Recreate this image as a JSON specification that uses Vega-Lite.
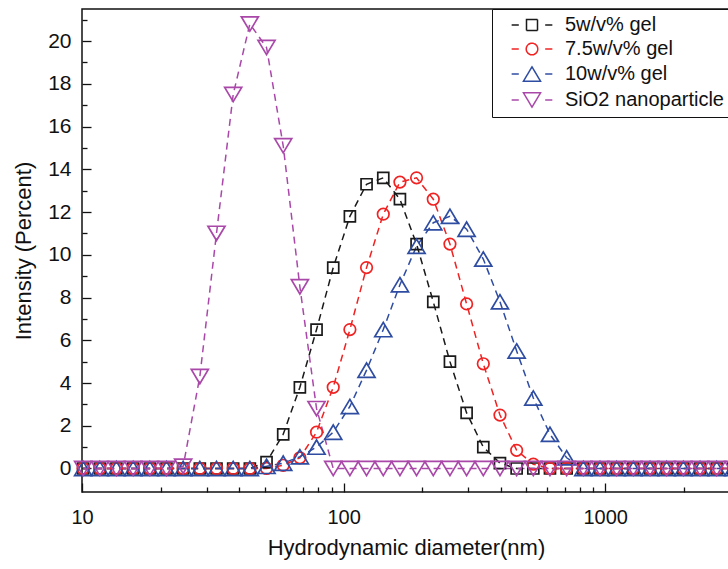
{
  "$schema": "https://vega.github.io/schema/vega-lite/v6.json",
  "width": 648,
  "height": 483,
  "autosize": {"type": "none"},
  "padding": {"left": 82, "top": 9, "right": 0, "bottom": 77},
  "background": "white",
  "config": {
    "font": "Liberation Sans",
    "view": {"stroke": "#111", "strokeWidth": 1.5}
  },
  "data": {
    "values": [
      {"s":"5w/v% gel","d":10.1,"v":0},{"s":"5w/v% gel","d":11.7,"v":0},{"s":"5w/v% gel","d":13.54,"v":0},{"s":"5w/v% gel","d":15.69,"v":0},{"s":"5w/v% gel","d":18.17,"v":0},{"s":"5w/v% gel","d":21.04,"v":0},{"s":"5w/v% gel","d":24.36,"v":0},{"s":"5w/v% gel","d":28.21,"v":0},{"s":"5w/v% gel","d":32.67,"v":0},{"s":"5w/v% gel","d":37.84,"v":0},{"s":"5w/v% gel","d":43.82,"v":0},{"s":"5w/v% gel","d":50.75,"v":0.3},{"s":"5w/v% gel","d":58.77,"v":1.6},{"s":"5w/v% gel","d":68.06,"v":3.8},{"s":"5w/v% gel","d":78.82,"v":6.5},{"s":"5w/v% gel","d":91.28,"v":9.4},{"s":"5w/v% gel","d":105.7,"v":11.8},{"s":"5w/v% gel","d":122.4,"v":13.3},{"s":"5w/v% gel","d":141.8,"v":13.6},{"s":"5w/v% gel","d":164.2,"v":12.6},{"s":"5w/v% gel","d":190.1,"v":10.5},{"s":"5w/v% gel","d":220.2,"v":7.8},{"s":"5w/v% gel","d":255.0,"v":5.0},{"s":"5w/v% gel","d":295.3,"v":2.6},{"s":"5w/v% gel","d":342.0,"v":1.0},{"s":"5w/v% gel","d":396.1,"v":0.25},{"s":"5w/v% gel","d":458.7,"v":0},{"s":"5w/v% gel","d":531.2,"v":0},{"s":"5w/v% gel","d":615.1,"v":0},{"s":"5w/v% gel","d":712.4,"v":0},{"s":"5w/v% gel","d":825.0,"v":0},{"s":"5w/v% gel","d":955.4,"v":0},{"s":"5w/v% gel","d":1106,"v":0},{"s":"5w/v% gel","d":1281,"v":0},{"s":"5w/v% gel","d":1484,"v":0},{"s":"5w/v% gel","d":1718,"v":0},{"s":"5w/v% gel","d":1990,"v":0},{"s":"5w/v% gel","d":2305,"v":0},{"s":"5w/v% gel","d":2669,"v":0},{"s":"5w/v% gel","d":3091,"v":0},
      {"s":"7.5w/v% gel","d":10.1,"v":0},{"s":"7.5w/v% gel","d":11.7,"v":0},{"s":"7.5w/v% gel","d":13.54,"v":0},{"s":"7.5w/v% gel","d":15.69,"v":0},{"s":"7.5w/v% gel","d":18.17,"v":0},{"s":"7.5w/v% gel","d":21.04,"v":0},{"s":"7.5w/v% gel","d":24.36,"v":0},{"s":"7.5w/v% gel","d":28.21,"v":0},{"s":"7.5w/v% gel","d":32.67,"v":0},{"s":"7.5w/v% gel","d":37.84,"v":0},{"s":"7.5w/v% gel","d":43.82,"v":0},{"s":"7.5w/v% gel","d":50.75,"v":0},{"s":"7.5w/v% gel","d":58.77,"v":0.15},{"s":"7.5w/v% gel","d":68.06,"v":0.5},{"s":"7.5w/v% gel","d":78.82,"v":1.7},{"s":"7.5w/v% gel","d":91.28,"v":3.8},{"s":"7.5w/v% gel","d":105.7,"v":6.5},{"s":"7.5w/v% gel","d":122.4,"v":9.4},{"s":"7.5w/v% gel","d":141.8,"v":11.9},{"s":"7.5w/v% gel","d":164.2,"v":13.4},{"s":"7.5w/v% gel","d":190.1,"v":13.6},{"s":"7.5w/v% gel","d":220.2,"v":12.6},{"s":"7.5w/v% gel","d":255.0,"v":10.5},{"s":"7.5w/v% gel","d":295.3,"v":7.7},{"s":"7.5w/v% gel","d":342.0,"v":4.9},{"s":"7.5w/v% gel","d":396.1,"v":2.5},{"s":"7.5w/v% gel","d":458.7,"v":0.85},{"s":"7.5w/v% gel","d":531.2,"v":0.2},{"s":"7.5w/v% gel","d":615.1,"v":0},{"s":"7.5w/v% gel","d":712.4,"v":0},{"s":"7.5w/v% gel","d":825.0,"v":0},{"s":"7.5w/v% gel","d":955.4,"v":0},{"s":"7.5w/v% gel","d":1106,"v":0},{"s":"7.5w/v% gel","d":1281,"v":0},{"s":"7.5w/v% gel","d":1484,"v":0},{"s":"7.5w/v% gel","d":1718,"v":0},{"s":"7.5w/v% gel","d":1990,"v":0},{"s":"7.5w/v% gel","d":2305,"v":0},{"s":"7.5w/v% gel","d":2669,"v":0},{"s":"7.5w/v% gel","d":3091,"v":0},
      {"s":"10w/v% gel","d":10.1,"v":0},{"s":"10w/v% gel","d":11.7,"v":0},{"s":"10w/v% gel","d":13.54,"v":0},{"s":"10w/v% gel","d":15.69,"v":0},{"s":"10w/v% gel","d":18.17,"v":0},{"s":"10w/v% gel","d":21.04,"v":0},{"s":"10w/v% gel","d":24.36,"v":0},{"s":"10w/v% gel","d":28.21,"v":0},{"s":"10w/v% gel","d":32.67,"v":0},{"s":"10w/v% gel","d":37.84,"v":0},{"s":"10w/v% gel","d":43.82,"v":0},{"s":"10w/v% gel","d":50.75,"v":0.1},{"s":"10w/v% gel","d":58.77,"v":0.25},{"s":"10w/v% gel","d":68.06,"v":0.55},{"s":"10w/v% gel","d":78.82,"v":1.0},{"s":"10w/v% gel","d":91.28,"v":1.7},{"s":"10w/v% gel","d":105.7,"v":2.9},{"s":"10w/v% gel","d":122.4,"v":4.6},{"s":"10w/v% gel","d":141.8,"v":6.5},{"s":"10w/v% gel","d":164.2,"v":8.6},{"s":"10w/v% gel","d":190.1,"v":10.4},{"s":"10w/v% gel","d":220.2,"v":11.5},{"s":"10w/v% gel","d":255.0,"v":11.8},{"s":"10w/v% gel","d":295.3,"v":11.2},{"s":"10w/v% gel","d":342.0,"v":9.8},{"s":"10w/v% gel","d":396.1,"v":7.8},{"s":"10w/v% gel","d":458.7,"v":5.5},{"s":"10w/v% gel","d":531.2,"v":3.3},{"s":"10w/v% gel","d":615.1,"v":1.6},{"s":"10w/v% gel","d":712.4,"v":0.5},{"s":"10w/v% gel","d":825.0,"v":0},{"s":"10w/v% gel","d":955.4,"v":0},{"s":"10w/v% gel","d":1106,"v":0},{"s":"10w/v% gel","d":1281,"v":0},{"s":"10w/v% gel","d":1484,"v":0},{"s":"10w/v% gel","d":1718,"v":0},{"s":"10w/v% gel","d":1990,"v":0},{"s":"10w/v% gel","d":2305,"v":0},{"s":"10w/v% gel","d":2669,"v":0},{"s":"10w/v% gel","d":3091,"v":0},
      {"s":"SiO2 nanoparticle","d":10.1,"v":0},{"s":"SiO2 nanoparticle","d":11.7,"v":0},{"s":"SiO2 nanoparticle","d":13.54,"v":0},{"s":"SiO2 nanoparticle","d":15.69,"v":0},{"s":"SiO2 nanoparticle","d":18.17,"v":0},{"s":"SiO2 nanoparticle","d":21.04,"v":0},{"s":"SiO2 nanoparticle","d":24.36,"v":0.1},{"s":"SiO2 nanoparticle","d":28.21,"v":4.3},{"s":"SiO2 nanoparticle","d":32.67,"v":11.0},{"s":"SiO2 nanoparticle","d":37.84,"v":17.5},{"s":"SiO2 nanoparticle","d":43.82,"v":20.8},{"s":"SiO2 nanoparticle","d":50.75,"v":19.7},{"s":"SiO2 nanoparticle","d":58.77,"v":15.1},{"s":"SiO2 nanoparticle","d":68.06,"v":8.5},{"s":"SiO2 nanoparticle","d":78.82,"v":2.8},{"s":"SiO2 nanoparticle","d":91.28,"v":0},{"s":"SiO2 nanoparticle","d":105.7,"v":0},{"s":"SiO2 nanoparticle","d":122.4,"v":0},{"s":"SiO2 nanoparticle","d":141.8,"v":0},{"s":"SiO2 nanoparticle","d":164.2,"v":0},{"s":"SiO2 nanoparticle","d":190.1,"v":0},{"s":"SiO2 nanoparticle","d":220.2,"v":0},{"s":"SiO2 nanoparticle","d":255.0,"v":0},{"s":"SiO2 nanoparticle","d":295.3,"v":0},{"s":"SiO2 nanoparticle","d":342.0,"v":0},{"s":"SiO2 nanoparticle","d":396.1,"v":0},{"s":"SiO2 nanoparticle","d":458.7,"v":0},{"s":"SiO2 nanoparticle","d":531.2,"v":0},{"s":"SiO2 nanoparticle","d":615.1,"v":0},{"s":"SiO2 nanoparticle","d":712.4,"v":0},{"s":"SiO2 nanoparticle","d":825.0,"v":0},{"s":"SiO2 nanoparticle","d":955.4,"v":0},{"s":"SiO2 nanoparticle","d":1106,"v":0},{"s":"SiO2 nanoparticle","d":1281,"v":0},{"s":"SiO2 nanoparticle","d":1484,"v":0},{"s":"SiO2 nanoparticle","d":1718,"v":0},{"s":"SiO2 nanoparticle","d":1990,"v":0},{"s":"SiO2 nanoparticle","d":2305,"v":0},{"s":"SiO2 nanoparticle","d":2669,"v":0},{"s":"SiO2 nanoparticle","d":3091,"v":0}
    ]
  },
  "encoding": {
    "x": {
      "field": "d", "type": "quantitative",
      "scale": {"type": "log", "domain": [10, 3000], "nice": false, "zero": false},
      "axis": {
        "title": "Hydrodynamic diameter(nm)",
        "values": [10,20,30,40,50,60,70,80,90,100,200,300,400,500,600,700,800,900,1000,2000,3000],
        "labelExpr": "(datum.value == 10 || datum.value == 100 || datum.value == 1000) ? datum.value : ''",
        "domain": false, "grid": false,
        "tickColor": "#111", "tickWidth": 1.3,
        "tickSize": {"condition": {"test": "datum.value == 10 || datum.value == 100 || datum.value == 1000", "value": -9}, "value": -5},
        "labelFontSize": 20, "labelColor": "#111", "labelPadding": 24, "labelFlush": false,
        "titleFontSize": 22, "titleFontWeight": "normal", "titleColor": "#111", "titlePadding": 10
      }
    },
    "y": {
      "field": "v", "type": "quantitative",
      "scale": {"domain": [-1.1, 21.5], "nice": false, "zero": false},
      "axis": {
        "title": "Intensity (Percent)",
        "values": [0,1,2,3,4,5,6,7,8,9,10,11,12,13,14,15,16,17,18,19,20,21],
        "labelExpr": "datum.value % 2 == 0 ? datum.value : ''",
        "domain": false, "grid": false,
        "tickColor": "#111", "tickWidth": 1.3,
        "tickSize": {"condition": {"test": "datum.value % 2 == 0", "value": -9}, "value": -5},
        "labelFontSize": 21, "labelColor": "#111", "labelPadding": 20,
        "titleFontSize": 22, "titleFontWeight": "normal", "titleColor": "#111", "titlePadding": 12
      }
    },
    "color": {
      "field": "s", "type": "nominal",
      "scale": {
        "domain": ["5w/v% gel", "7.5w/v% gel", "10w/v% gel", "SiO2 nanoparticle"],
        "range": ["#1a1a1a", "#f02222", "#2e4ca2", "#a948a9"]
      },
      "legend": {
        "title": null,
        "orient": "top-right",
        "offset": 0,
        "padding": 6,
        "strokeColor": "#111",
        "fillColor": "white",
        "labelFont": "Liberation Sans",
        "labelFontSize": 20,
        "labelColor": "#111",
        "rowPadding": 4,
        "symbolSize": 121,
        "symbolStrokeWidth": 1.5,
        "symbolFillColor": "transparent",
        "symbolDash": [1, 0],
        "symbolOffset": 24,
        "labelOffset": 23,
        "symbolType": {"expr": "'M-3.7,0H-2.4M2.4,0H3.7' + scale('shape', datum.value)"},
        "encode": {
          "symbols": {
            "update": {
              "strokeDash": {"value": [1, 0]}
            }
          }
        }
      }
    }
  },
  "layer": [
    {
      "mark": {"type": "line", "strokeDash": [7, 5], "strokeWidth": 1.5},
      "encoding": {
        "detail": {"field": "s"}
      }
    },
    {
      "mark": {"type": "point", "filled": false, "size": 121, "strokeWidth": 1.7, "opacity": 1},
      "encoding": {
        "shape": {
          "field": "s", "type": "nominal",
          "scale": {
            "domain": ["SiO2 nanoparticle", "10w/v% gel", "7.5w/v% gel", "5w/v% gel"],
            "range": [
              "M0,1.3L1.55,-1.3H-1.55Z",
              "M0,-1.3L1.55,1.3H-1.55Z",
              "M-1.05,0A1.05,1.05 0 1,0 1.05,0A1.05,1.05 0 1,0 -1.05,0Z",
              "M-1,-1H1V1H-1Z"
            ]
          },
          "legend": null
        }
      }
    }
  ]
}
